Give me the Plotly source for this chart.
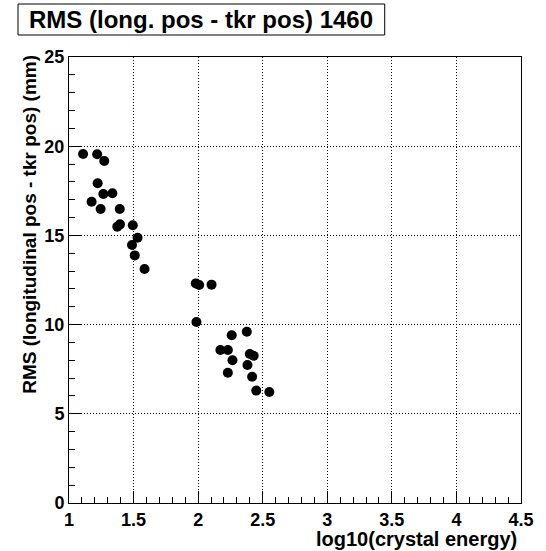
import plotly.graph_objects as go

log_energy = [1.109, 1.218, 1.273, 1.222, 1.266, 1.336, 1.175, 1.245,
              1.393, 1.374, 1.395, 1.494, 1.531, 1.488, 1.509, 1.585,
              1.982, 2.008, 2.104, 1.987, 2.260, 2.377, 2.172, 2.230,
              2.266, 2.400, 2.430, 2.382, 2.230, 2.418, 2.450, 2.551]
rms_mm = [19.56, 19.55, 19.17, 17.92, 17.32, 17.36, 16.89, 16.48,
          16.48, 15.49, 15.62, 15.57, 14.87, 14.46, 13.88, 13.12,
          12.31, 12.22, 12.24, 10.15, 9.40, 9.60, 8.58, 8.58,
          8.00, 8.35, 8.25, 7.74, 7.30, 7.08, 6.30, 6.22]

x_ticks = [1, 1.5, 2, 2.5, 3, 3.5, 4, 4.5]
x_labels = ["1", "1.5", "2", "2.5", "3", "3.5", "4", "4.5"]
y_ticks = [0, 5, 10, 15, 20, 25]
y_labels = ["0", "5", "10", "15", "20", "25"]

title_text = "RMS (long. pos - tkr pos) 1460"
x_title = "log10(crystal energy)"
y_title = "RMS (longitudinal pos - tkr pos) (mm)"

FONT = "Liberation Sans"

fig = go.Figure()
fig.add_trace(go.Scatter(
    x=log_energy, y=rms_mm, mode="markers",
    marker=dict(color="black", size=10, line=dict(width=0)),
    showlegend=False,
))

axis_common = dict(
    showline=True, linecolor="black", linewidth=1, mirror=True,
    tickmode="array",
    ticks="inside", ticklen=12, tickcolor="black", tickwidth=1,
    showgrid=True, gridcolor="black", griddash="1px,2px", gridwidth=1,
    zeroline=False,
    tickfont=dict(family=FONT, size=18, color="black", weight="bold"),
)

fig.update_xaxes(
    range=[1, 4.5], tickvals=x_ticks, ticktext=x_labels,
    minor=dict(tickmode="linear", dtick=0.1, tick0=1, ticks="inside", ticklen=6,
               tickcolor="black", tickwidth=1, showgrid=False),
    **axis_common,
)
fig.update_yaxes(
    range=[0, 25], tickvals=y_ticks, ticktext=y_labels,
    minor=dict(tickmode="linear", dtick=1, tick0=0, ticks="inside", ticklen=6,
               tickcolor="black", tickwidth=1, showgrid=False),
    **axis_common,
)

# title box
fig.add_shape(
    type="rect", xref="paper", yref="paper",
    x0=-0.1128, x1=0.6985, y0=1.0493, y1=1.1188,
    line=dict(color="black", width=1), fillcolor="white", layer="above",
)
fig.add_annotation(
    text=title_text, xref="paper", yref="paper",
    x=0.2928, y=1.0841, xanchor="center", yanchor="middle",
    showarrow=False,
    font=dict(family=FONT, size=24, color="black", weight="bold"),
)
fig.add_annotation(
    text=x_title, xref="paper", yref="paper",
    x=0.9957, y=-0.052, xanchor="right", yanchor="top",
    showarrow=False,
    font=dict(family=FONT, size=20, color="black", weight="bold"),
)
fig.add_annotation(
    text=y_title, xref="paper", yref="paper", textangle=-90,
    x=-0.089, y=1.01, xanchor="center", yanchor="top",
    showarrow=False,
    font=dict(family=FONT, size=19, color="black", weight="bold"),
)

fig.update_layout(
    width=546, height=551,
    margin=dict(l=69, r=16, t=57, b=48, pad=0),
    paper_bgcolor="white", plot_bgcolor="white",
)

fig.write_html("out.html")
